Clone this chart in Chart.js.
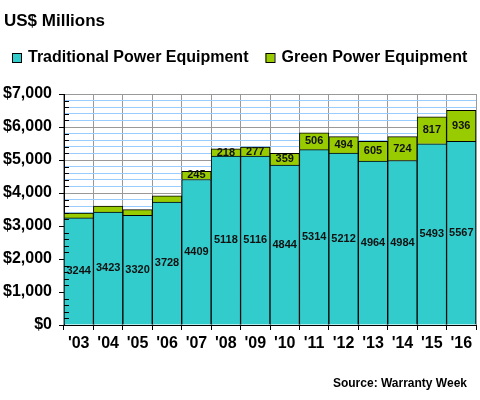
<!DOCTYPE html>
<html>
<head>
<meta charset="utf-8">
<script src="https://cdn.jsdelivr.net/npm/chart.js@4/dist/chart.umd.min.js"></script>
<style>
  html, body { margin: 0; padding: 0; background: #fff; }
</style>
</head>
<body>
<canvas id="chart" width="480" height="400"></canvas>
<script>
const years = ["'03", "'04", "'05", "'06", "'07", "'08", "'09", "'10", "'11", "'12", "'13", "'14", "'15", "'16"];
const traditional = [3244, 3423, 3320, 3728, 4409, 5118, 5116, 4844, 5314, 5212, 4964, 4984, 5493, 5567];
const greenPower = [151, 184, 175, 190, 245, 218, 277, 359, 506, 494, 605, 724, 817, 936];
const seriesNames = ['Traditional Power Equipment', 'Green Power Equipment'];
const titleText = 'US$ Millions';
const sourceText = 'Source: Warranty Week';

const FONT = '"Liberation Sans", Arial, sans-serif';

// title, legend and source line
const chrome = {
    id: 'chrome',
    afterDraw(chart) {
        const ctx = chart.ctx;
        ctx.save();
        ctx.textBaseline = 'middle';
        ctx.fillStyle = '#000';
        ctx.font = 'bold 17px ' + FONT;
        ctx.fillText(titleText, 4, 21);

        ctx.font = 'bold 16px ' + FONT;
        let x = 12;
        chart.data.datasets.forEach(ds => {
            ctx.fillStyle = ds.backgroundColor;
            ctx.fillRect(x, 53, 9, 9);
            ctx.strokeStyle = '#000';
            ctx.lineWidth = 1;
            ctx.strokeRect(x + 0.5, 53.5, 9, 9);
            ctx.fillStyle = '#000';
            ctx.fillText(ds.label, x + 16, 58);
            x += 16 + ctx.measureText(ds.label).width + 17;
        });

        ctx.font = 'bold 12px ' + FONT;
        ctx.textAlign = 'right';
        ctx.fillText(sourceText, 467, 384);
        ctx.restore();
    }
};

// values inside each segment + small inner ticks on the y axis
const barLabels = {
    id: 'barLabels',
    afterDatasetsDraw(chart) {
        const ctx = chart.ctx;
        ctx.save();
        ctx.font = 'bold 11px ' + FONT;
        ctx.fillStyle = '#111';
        ctx.textAlign = 'center';
        ctx.textBaseline = 'middle';
        chart.data.datasets.forEach((ds, i) => {
            chart.getDatasetMeta(i).data.forEach((bar, j) => {
                const v = ds.data[j];
                if (v < 200) return;
                ctx.fillText(String(v), bar.x, (bar.y + bar.base) / 2);
            });
        });

        const y = chart.scales.y;
        ctx.strokeStyle = '#000';
        ctx.lineWidth = 1;
        ctx.beginPath();
        y.ticks.forEach(t => {
            if (t.value % 1000 === 0) return;
            const py = Math.round(y.getPixelForValue(t.value)) + 0.5;
            ctx.moveTo(y.right, py);
            ctx.lineTo(y.right + 5, py);
        });
        ctx.stroke();
        ctx.restore();
    }
};

new Chart(document.getElementById('chart'), {
    type: 'bar',
    data: {
        labels: years,
        datasets: [{
            label: seriesNames[0],
            data: traditional,
            backgroundColor: '#33CCCC',
            borderColor: '#000',
            borderWidth: 1,
            barPercentage: 1,
            categoryPercentage: 1
        }, {
            label: seriesNames[1],
            data: greenPower,
            backgroundColor: '#99CC00',
            borderColor: '#000',
            borderWidth: 1,
            barPercentage: 1,
            categoryPercentage: 1
        }]
    },
    options: {
        responsive: false,
        animation: false,
        layout: {
            padding: { top: 94, right: 4, bottom: 0, left: 0 }
        },
        scales: {
            x: {
                stacked: true,
                afterFit: s => { s.height = 75; },
                grid: {
                    color: '#999',
                    tickColor: '#000',
                    tickLength: 5
                },
                border: { color: '#000' },
                ticks: {
                    color: '#000',
                    padding: 4,
                    font: { family: FONT, size: 16, weight: 'bold' }
                }
            },
            y: {
                stacked: true,
                min: 0,
                max: 7000,
                afterFit: s => { s.width = 64; },
                grid: {
                    color: c => c.tick.value % 1000 === 0 ? '#999' : '#99CCFF',
                    tickColor: c => c.tick.value % 1000 === 0 ? '#000' : 'rgba(0,0,0,0)',
                    tickLength: 5
                },
                border: { color: '#000' },
                ticks: {
                    stepSize: 200,
                    autoSkip: false,
                    color: '#000',
                    padding: 7,
                    font: { family: FONT, size: 16, weight: 'bold' },
                    callback: v => v % 1000 === 0 ? '$' + v.toLocaleString('en-US') : ''
                }
            }
        },
        plugins: {
            legend: { display: false },
            tooltip: { enabled: false }
        }
    },
    plugins: [chrome, barLabels]
});
</script>
</body>
</html>
